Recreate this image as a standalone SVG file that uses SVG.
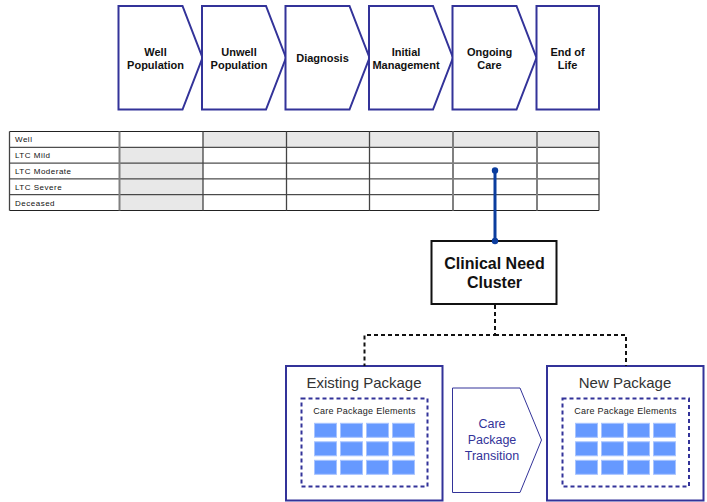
<svg xmlns="http://www.w3.org/2000/svg" width="707" height="502" viewBox="0 0 707 502">
<style>
.chev{fill:#fff;stroke:#333399;stroke-width:2;stroke-linejoin:miter}
.ct{font-family:"Liberation Sans",Arial,sans-serif;font-size:11px;font-weight:bold;fill:#111;text-anchor:middle}
.rl{font-family:"Liberation Sans",Arial,sans-serif;font-size:8px;letter-spacing:0.5px;fill:#111}
.g{fill:#e8e8e8}
.hl{stroke:#222;stroke-width:1}
.vl{stroke:#444;stroke-width:1.3}
.vg{stroke:#808080;stroke-width:2}
.pkg{fill:#fff;stroke:#333399;stroke-width:2}
.inner{fill:none;stroke:#333399;stroke-width:2;stroke-dasharray:4,3}
.pt{font-family:"Liberation Sans",Arial,sans-serif;font-size:15px;fill:#333;text-anchor:middle}
.et{font-family:"Liberation Sans",Arial,sans-serif;font-size:9px;letter-spacing:0.25px;fill:#222;text-anchor:middle}
.cell{fill:#6699ff;stroke:#a8c4ff;stroke-width:1}
.dash{fill:none;stroke:#111;stroke-width:2;stroke-dasharray:4,3}
</style>
<defs>
<g id="cells">
<rect class="cell" x="0" y="0" width="22" height="14"/>
<rect class="cell" x="26" y="0" width="22" height="14"/>
<rect class="cell" x="52" y="0" width="22" height="14"/>
<rect class="cell" x="78" y="0" width="22" height="14"/>
<rect class="cell" x="0" y="18.5" width="22" height="14"/>
<rect class="cell" x="26" y="18.5" width="22" height="14"/>
<rect class="cell" x="52" y="18.5" width="22" height="14"/>
<rect class="cell" x="78" y="18.5" width="22" height="14"/>
<rect class="cell" x="0" y="37" width="22" height="14"/>
<rect class="cell" x="26" y="37" width="22" height="14"/>
<rect class="cell" x="52" y="37" width="22" height="14"/>
<rect class="cell" x="78" y="37" width="22" height="14"/>
</g>
</defs>
<rect width="707" height="502" fill="#fff"/>

<g id="stage-well">
<polygon class="chev" points="118.5,6 182.5,6 202.5,57.75 182.5,109.5 118.5,109.5"/>
<text class="ct" x="155.5" y="56">Well</text>
<text class="ct" x="155.5" y="68.5">Population</text>
</g>
<g id="stage-unwell">
<polygon class="chev" points="202,6 266,6 286,57.75 266,109.5 202,109.5"/>
<text class="ct" x="239" y="56">Unwell</text>
<text class="ct" x="239" y="68.5">Population</text>
</g>
<g id="stage-diagnosis">
<polygon class="chev" points="285.5,6 349.5,6 369.5,57.75 349.5,109.5 285.5,109.5"/>
<text class="ct" x="322.5" y="61.5">Diagnosis</text>
</g>
<g id="stage-initial">
<polygon class="chev" points="369,6 433,6 453,57.75 433,109.5 369,109.5"/>
<text class="ct" x="406" y="56">Initial</text>
<text class="ct" x="406" y="68.5">Management</text>
</g>
<g id="stage-ongoing">
<polygon class="chev" points="452.5,6 516.5,6 536.5,57.75 516.5,109.5 452.5,109.5"/>
<text class="ct" x="489.5" y="56">Ongoing</text>
<text class="ct" x="489.5" y="68.5">Care</text>
</g>
<g id="stage-end">
<rect class="chev" x="536.5" y="6" width="62.5" height="103.5"/>
<text class="ct" x="567.5" y="56">End of</text>
<text class="ct" x="567.5" y="68.5">Life</text>
</g>

<g id="table">
<rect x="9.5" y="131.5" width="589.5" height="79" fill="#fff"/>
<rect class="g" x="203" y="131.5" width="396" height="15.8"/>
<rect class="g" x="119.5" y="147.3" width="83.5" height="63.2"/>
<line class="hl" x1="9.5" y1="131.5" x2="599" y2="131.5"/>
<line class="hl" x1="9.5" y1="147.3" x2="599" y2="147.3"/>
<line class="hl" x1="9.5" y1="163.1" x2="599" y2="163.1"/>
<line class="hl" x1="9.5" y1="178.9" x2="599" y2="178.9"/>
<line class="hl" x1="9.5" y1="194.7" x2="599" y2="194.7"/>
<line class="hl" x1="9.5" y1="210.5" x2="599" y2="210.5"/>
<line class="vl" x1="9.5" y1="131.5" x2="9.5" y2="210.5"/>
<line class="vg" x1="119.5" y1="131.5" x2="119.5" y2="210.5"/>
<line class="vl" x1="203" y1="131.5" x2="203" y2="210.5"/>
<line class="vl" x1="286.5" y1="131.5" x2="286.5" y2="210.5"/>
<line class="vl" x1="369.5" y1="131.5" x2="369.5" y2="210.5"/>
<line class="vg" x1="453" y1="131.5" x2="453" y2="210.5"/>
<line class="vg" x1="537" y1="131.5" x2="537" y2="210.5"/>
<line class="vl" x1="599" y1="131.5" x2="599" y2="210.5"/>
<text class="rl" x="15" y="142.3">Well</text>
<text class="rl" x="15" y="158.1">LTC Mild</text>
<text class="rl" x="15" y="173.9">LTC Moderate</text>
<text class="rl" x="15" y="189.7">LTC Severe</text>
<text class="rl" x="15" y="205.5">Deceased</text>
</g>

<g id="clinical-need-cluster">
<rect x="431.5" y="241" width="125" height="63" fill="#fff" stroke="#111" stroke-width="2"/>
<text x="494.5" y="268.5" font-family="Liberation Sans,Arial,sans-serif" font-size="16" font-weight="bold" fill="#111" text-anchor="middle">Clinical Need</text>
<text x="494.5" y="288" font-family="Liberation Sans,Arial,sans-serif" font-size="16" font-weight="bold" fill="#111" text-anchor="middle">Cluster</text>
</g>

<g id="existing-package">
<rect class="pkg" x="286" y="366" width="156.5" height="134.5"/>
<text class="pt" x="364" y="387.5">Existing Package</text>
<rect class="inner" x="301.5" y="398.5" width="126" height="88"/>
<text class="et" x="364.5" y="413.5">Care Package Elements</text>
<use href="#cells" x="314.5" y="423.3"/>
</g>

<g id="new-package">
<rect class="pkg" x="547" y="366" width="156.5" height="134.5"/>
<text class="pt" x="625" y="387.5">New Package</text>
<rect class="inner" x="562.5" y="398.5" width="126.5" height="88"/>
<text class="et" x="625.5" y="413.5">Care Package Elements</text>
<use href="#cells" x="575.5" y="423.3"/>
</g>

<g id="care-package-transition">
<polygon points="452.5,388 520,388 541.5,440 520,492.5 452.5,492.5" fill="#fff" stroke="#333399" stroke-width="1"/>
<g font-family="Liberation Sans,Arial,sans-serif" font-size="12.5" fill="#333399" text-anchor="middle">
<text x="492" y="427.5">Care</text>
<text x="492" y="443.5">Package</text>
<text x="492" y="459.5">Transition</text>
</g>
</g>

<g id="connectors">
<line x1="495" y1="170.5" x2="495" y2="241" stroke="#0b3d9e" stroke-width="3"/>
<circle cx="495" cy="170.5" r="3.2" fill="#0b3d9e"/>
<circle cx="495" cy="241" r="3.2" fill="#0b3d9e"/>
<polyline class="dash" points="495,305 495,335 364.5,335 364.5,366"/>
<polyline class="dash" points="495,335 626,335 626,366"/>
</g>
</svg>
